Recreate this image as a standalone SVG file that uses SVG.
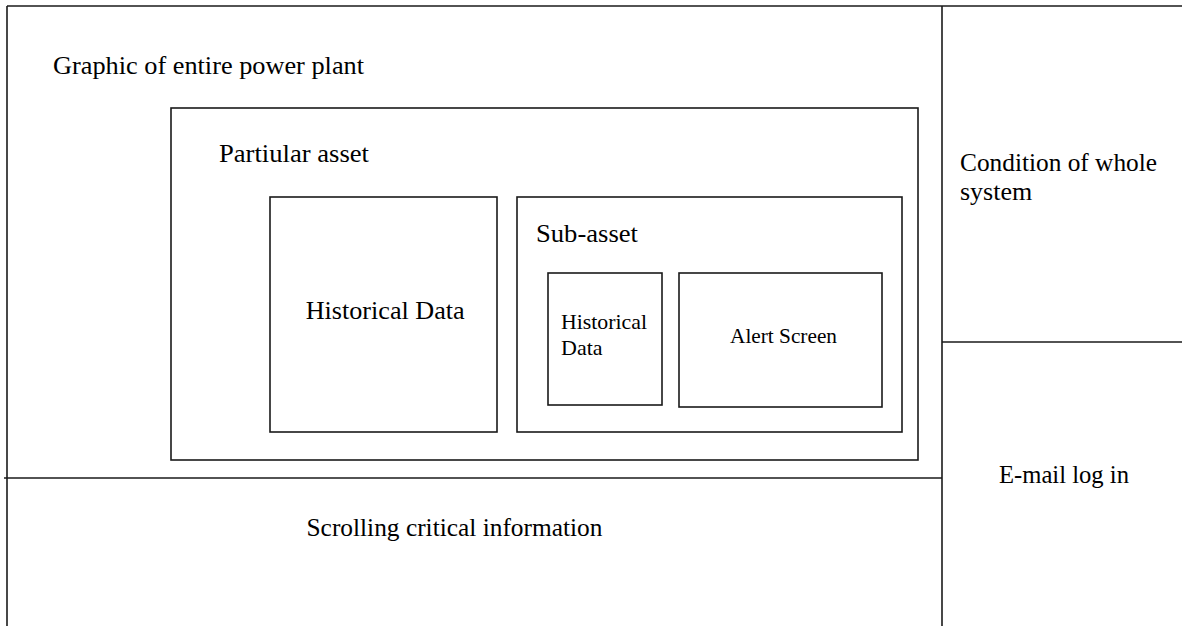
<svg xmlns="http://www.w3.org/2000/svg" width="1182" height="626" viewBox="0 0 1182 626">
<style>
.ln{stroke:#1a1a1a;stroke-width:1.6;fill:none}
.bx{stroke:#1a1a1a;stroke-width:1.6;fill:#fff}
.t{font-family:"Liberation Serif","Times New Roman",serif;fill:#000}
.big{font-size:26px}
.sm{font-size:22px}
</style>
<rect x="0" y="0" width="1182" height="626" fill="#fff"/>
<g id="frame">
<line class="ln" x1="7" y1="6" x2="1182" y2="6"/>
<line class="ln" x1="7" y1="6" x2="7" y2="626"/>
<line class="ln" x1="942" y1="6" x2="942" y2="626"/>
<line class="ln" x1="4" y1="478" x2="942" y2="478"/>
<line class="ln" x1="942" y1="342" x2="1182" y2="342"/>
</g>
<g id="power-plant">
<text class="t big" x="53" y="73.5" textLength="311" lengthAdjust="spacingAndGlyphs">Graphic of entire power plant</text>
</g>
<g id="condition">
<text class="t big" x="960" y="171" textLength="197" lengthAdjust="spacingAndGlyphs">Condition of whole</text>
<text class="t big" x="960" y="200">system</text>
</g>
<g id="email">
<text class="t big" x="999" y="483" textLength="130" lengthAdjust="spacingAndGlyphs">E-mail log in</text>
</g>
<g id="scrolling">
<text class="t big" x="306.5" y="536" textLength="296" lengthAdjust="spacingAndGlyphs">Scrolling critical information</text>
</g>
<g id="particular-asset">
<rect class="bx" x="171" y="108" width="747" height="352"/>
<text class="t big" x="219" y="162.3" textLength="150" lengthAdjust="spacingAndGlyphs">Partiular asset</text>
</g>
<g id="historical-data">
<rect class="bx" x="270" y="197" width="227" height="235"/>
<text class="t big" x="305.7" y="319.3" textLength="159" lengthAdjust="spacingAndGlyphs">Historical Data</text>
</g>
<g id="sub-asset">
<rect class="bx" x="517" y="197" width="385" height="235"/>
<text class="t big" x="536" y="241.7" textLength="102" lengthAdjust="spacingAndGlyphs">Sub-asset</text>
</g>
<g id="sub-historical-data">
<rect class="bx" x="548" y="273" width="114" height="132"/>
<text class="t sm" x="561" y="329" textLength="86" lengthAdjust="spacingAndGlyphs">Historical</text>
<text class="t sm" x="561" y="355">Data</text>
</g>
<g id="alert-screen">
<rect class="bx" x="679" y="273" width="203" height="134"/>
<text class="t sm" x="730" y="343.3" textLength="107" lengthAdjust="spacingAndGlyphs">Alert Screen</text>
</g>
<g id="connectors"/>
</svg>
